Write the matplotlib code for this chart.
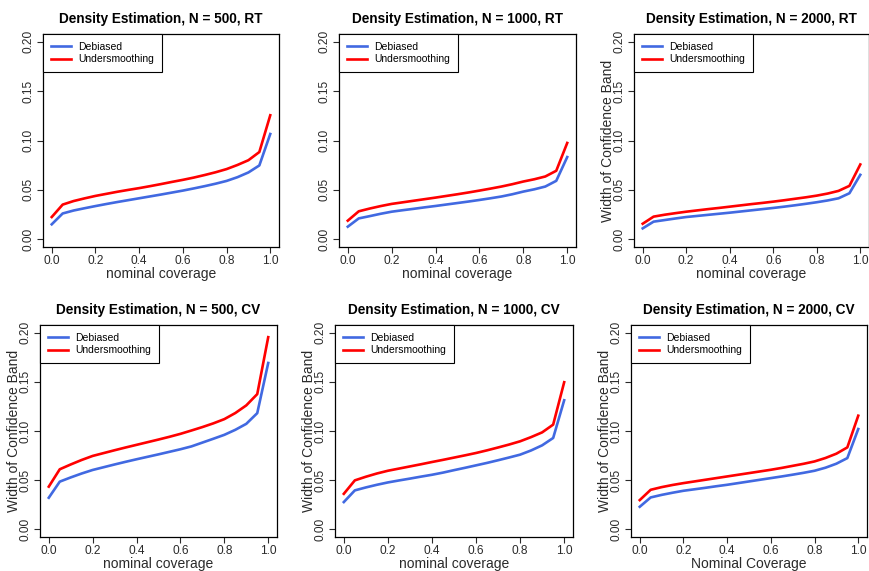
import matplotlib
matplotlib.use("Agg")
import matplotlib.pyplot as plt

plt.rcParams['font.family'] = ['Liberation Sans', 'DejaVu Sans']

coverage = [0.00, 0.05, 0.10, 0.15, 0.20, 0.25, 0.30, 0.35, 0.40, 0.45, 0.50,
            0.55, 0.60, 0.65, 0.70, 0.75, 0.80, 0.85, 0.90, 0.95, 1.00]

# Band widths, regression-type (RT) bandwidth
rt500_debiased = [.0150, .0260, .0290, .0313, .0335, .0356, .0376, .0395, .0414, .0433, .0452,
                  .0472, .0492, .0514, .0537, .0562, .0590, .0628, .0676, .0747, .1066]
rt500_under = [.0224, .0350, .0386, .0413, .0438, .0459, .0480, .0499, .0517, .0537, .0558,
               .0580, .0601, .0624, .0650, .0678, .0710, .0752, .0800, .0883, .1256]
rt1000_debiased = [.0126, .0210, .0233, .0257, .0278, .0293, .0307, .0322, .0336, .0351, .0366,
                   .0381, .0397, .0414, .0432, .0455, .0482, .0505, .0533, .0591, .0832]
rt1000_under = [.0187, .0282, .0310, .0335, .0357, .0373, .0389, .0405, .0421, .0438, .0455,
                .0473, .0492, .0512, .0533, .0557, .0584, .0607, .0635, .0693, .0975]
rt2000_debiased = [.0109, .0177, .0193, .0209, .0224, .0235, .0246, .0257, .0268, .0280, .0292,
                   .0304, .0316, .0329, .0343, .0358, .0374, .0392, .0414, .0465, .0652]
rt2000_under = [.0156, .0228, .0247, .0263, .0278, .0291, .0304, .0316, .0329, .0342, .0355,
                .0367, .0380, .0394, .0409, .0424, .0441, .0462, .0489, .0540, .0757]

# Band widths, cross-validated (CV) bandwidth
cv500_debiased = [.0320, .0484, .0527, .0567, .0603, .0631, .0659, .0686, .0712, .0737, .0762,
                  .0788, .0814, .0843, .0882, .0921, .0961, .1012, .1073, .1182, .1693]
cv500_under = [.0433, .0610, .0659, .0705, .0746, .0775, .0804, .0832, .0859, .0886, .0913,
               .0941, .0971, .1005, .1040, .1078, .1121, .1183, .1261, .1376, .1956]
cv1000_debiased = [.0276, .0395, .0425, .0452, .0476, .0496, .0515, .0535, .0554, .0576, .0601,
                   .0625, .0650, .0675, .0702, .0730, .0759, .0802, .0854, .0929, .1313]
cv1000_under = [.0360, .0497, .0534, .0567, .0595, .0617, .0639, .0661, .0684, .0706, .0729,
                .0752, .0776, .0803, .0832, .0862, .0895, .0938, .0986, .1065, .1497]
cv2000_debiased = [.0228, .0323, .0349, .0371, .0391, .0406, .0421, .0437, .0452, .0469, .0486,
                   .0503, .0520, .0537, .0555, .0574, .0595, .0626, .0667, .0724, .1020]
cv2000_under = [.0296, .0401, .0428, .0450, .0469, .0486, .0503, .0520, .0537, .0554, .0571,
                .0588, .0605, .0624, .0645, .0666, .0690, .0725, .0769, .0833, .1156]

titles = ["Density Estimation, N = 500, RT", "Density Estimation, N = 1000, RT",
          "Density Estimation, N = 2000, RT", "Density Estimation, N = 500, CV",
          "Density Estimation, N = 1000, CV", "Density Estimation, N = 2000, CV"]
xlabels = ["nominal coverage"] * 5 + ["Nominal Coverage"]
show_ylabel = [False, False, True, True, True, True]
series = [(rt500_debiased, rt500_under), (rt1000_debiased, rt1000_under),
          (rt2000_debiased, rt2000_under), (cv500_debiased, cv500_under),
          (cv1000_debiased, cv1000_under), (cv2000_debiased, cv2000_under)]

x_ticks = [0.0, 0.2, 0.4, 0.6, 0.8, 1.0]
x_ticklabels = ["0.0", "0.2", "0.4", "0.6", "0.8", "1.0"]
y_ticks = [0.00, 0.05, 0.10, 0.15, 0.20]
y_ticklabels = ["0.00", "0.05", "0.10", "0.15", "0.20"]

W, H = 870, 571
fig = plt.figure(figsize=(W / 100, H / 100), dpi=100)

# panel boxes in pixels: left, right, top, bottom
boxes = [(43, 279, 34, 247), (339, 576, 34, 247), (634, 869, 34, 247),
         (40, 277, 325, 537), (335, 573, 325, 537), (631, 867, 325, 537)]

BLUE = "#4169E1"
RED = "#FF0000"
TXT = "#2a2a2a"

for i, (l, r, t, b) in enumerate(boxes):
    ax = fig.add_axes([l / W, 1 - b / H, (r - l) / W, (b - t) / H])
    deb, und = series[i]
    ax.plot(coverage, deb, color=BLUE, lw=1.9, label="Debiased")
    ax.plot(coverage, und, color=RED, lw=1.9, label="Undersmoothing")
    ax.set_xlim(-0.04, 1.04)
    ax.set_ylim(-0.008, 0.208)
    ax.set_xticks(x_ticks)
    ax.set_xticklabels(x_ticklabels, fontsize=8.6, color=TXT)
    ax.set_yticks(y_ticks)
    ax.set_yticklabels(y_ticklabels, fontsize=8.6, color=TXT, rotation=90, va="center")
    ax.tick_params(length=4, width=0.8, pad=2, color=TXT)
    for s in ax.spines.values():
        s.set_linewidth(0.9)
        s.set_color("black")
    ax.set_title(titles[i], fontsize=9.8, fontweight="bold", pad=8)
    ax.set_xlabel(xlabels[i], fontsize=10, labelpad=0, color=TXT)
    if show_ylabel[i]:
        ax.set_ylabel("Width of Confidence Band", fontsize=10, labelpad=-1, color=TXT)
    leg = ax.legend(loc="upper left", borderaxespad=0, fancybox=False, fontsize=7.5,
                    handlelength=1.9, handletextpad=0.75, borderpad=0.75,
                    labelspacing=0.25, framealpha=1)
    leg.get_frame().set_edgecolor("black")
    leg.get_frame().set_linewidth(0.8)

fig.savefig("out.png", dpi=100)
